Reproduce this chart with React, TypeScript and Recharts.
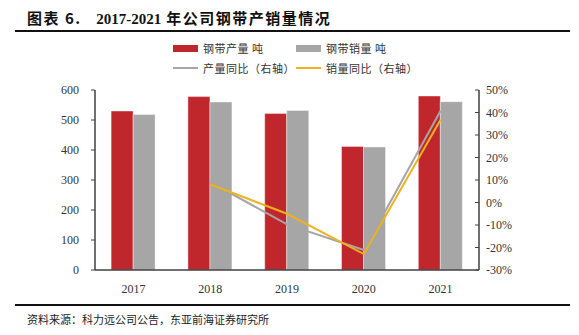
import React from "react";
import {
  Bar,
  ComposedChart,
  Line,
  XAxis,
  YAxis,
} from "recharts";

// years and values
const years = ["2017", "2018", "2019", "2020", "2021"];
const productionTons = [530, 578, 522, 412, 580];
const salesTons = [518, 560, 532, 410, 561];
const productionYoY = [null, 9.1, -9.7, -21.1, 40.8];
const salesYoY = [null, 8.1, -5.0, -22.9, 36.8];

const leftTicks = [0, 100, 200, 300, 400, 500, 600];
const rightTicks = [-30, -20, -10, 0, 10, 20, 30, 40, 50];

const RED = "#C0272D";
const GRAY = "#A6A6A6";
const YELLOW = "#EDB21E";
const AXIS = "#404040";
const SERIF = "'Liberation Serif', 'Times New Roman', serif";
const CJK = "'Noto Sans CJK SC', sans-serif";

const chartData = years.map((year, i) => ({
  year,
  production: productionTons[i],
  sales: salesTons[i],
  prodYoY: productionYoY[i],
  salesYoY: salesYoY[i],
}));

function LegendSwatch({ kind, color }: { kind: "box" | "line"; color: string }) {
  if (kind === "box") {
    return <span style={{ display: "inline-block", width: 25, height: 7, background: color, marginRight: 5 }} />;
  }
  return <span style={{ display: "inline-block", width: 25, height: 1.5, background: color, marginRight: 5, verticalAlign: "middle" }} />;
}

export default function App() {
  const legendText: React.CSSProperties = { fontFamily: CJK, fontSize: 11, color: "#333", letterSpacing: 0.5 };
  return (
    <div style={{ position: "absolute", left: 0, top: 0, width: 579, height: 335, background: "#fff" }}>
      <div style={{ position: "absolute", left: 27, top: 7, fontFamily: CJK, fontWeight: 700, fontSize: 15, color: "#111", whiteSpace: "nowrap", letterSpacing: 1.5 }}>
        图表 6.&nbsp;&nbsp;&nbsp;<span style={{ fontFamily: SERIF, letterSpacing: 0 }}>2017-2021</span> 年公司钢带产销量情况
      </div>
      <div style={{ position: "absolute", left: 15, top: 30, width: 555, height: 2, background: "#111" }} />

      <div style={{ position: "absolute", left: 173, top: 40, ...legendText, display: "flex", alignItems: "center" }}>
        <LegendSwatch kind="box" color={RED} />钢带产量 吨
      </div>
      <div style={{ position: "absolute", left: 296, top: 40, ...legendText, display: "flex", alignItems: "center" }}>
        <LegendSwatch kind="box" color={GRAY} />钢带销量 吨
      </div>
      <div style={{ position: "absolute", left: 173, top: 60, ...legendText, display: "flex", alignItems: "center" }}>
        <LegendSwatch kind="line" color={GRAY} />产量同比（右轴）
      </div>
      <div style={{ position: "absolute", left: 296, top: 60, ...legendText, display: "flex", alignItems: "center" }}>
        <LegendSwatch kind="line" color={YELLOW} />销量同比（右轴）
      </div>

      <div style={{ position: "absolute", left: 0, top: 0 }}>
        <ComposedChart
          width={579}
          height={300}
          data={chartData}
          margin={{ top: 90, right: 0, bottom: 0, left: 0 }}
          barCategoryGap="21%"
          barGap={0}
        >
          <XAxis
            dataKey="year"
            tickLine={false}
            axisLine={{ stroke: AXIS, strokeWidth: 1.5 }}
            height={30}
            tick={{ fontFamily: SERIF, fontSize: 12, fill: "#333" }}
            tickMargin={8}
          />
          <YAxis
            yAxisId="left"
            width={95}
            domain={[0, 600]}
            ticks={leftTicks}
            interval={0}
            axisLine={{ stroke: AXIS, strokeWidth: 1.5 }}
            tickLine={{ stroke: AXIS }}
            tickSize={4}
            tickMargin={12}
            tick={{ fontFamily: SERIF, fontSize: 12, fill: "#333" }}
          />
          <YAxis
            yAxisId="right"
            orientation="right"
            width={100}
            domain={[-30, 50]}
            ticks={rightTicks}
            interval={0}
            axisLine={{ stroke: AXIS, strokeWidth: 1.5 }}
            tickLine={{ stroke: AXIS }}
            tickSize={-4}
            tickMargin={11}
            tickFormatter={(v: number) => `${v}%`}
            tick={{ fontFamily: SERIF, fontSize: 12, fill: "#333", textAnchor: "start" }}
          />
          <Bar yAxisId="left" dataKey="production" fill={RED} stroke="#ffffff" strokeOpacity={0.4} strokeWidth={1} isAnimationActive={false} />
          <Bar yAxisId="left" dataKey="sales" fill={GRAY} stroke="#ffffff" strokeOpacity={0.4} strokeWidth={1} isAnimationActive={false} />
          <Line yAxisId="right" type="linear" dataKey="prodYoY" stroke={GRAY} strokeWidth={2} dot={false} isAnimationActive={false} />
          <Line yAxisId="right" type="linear" dataKey="salesYoY" stroke={YELLOW} strokeWidth={2} dot={false} isAnimationActive={false} />
        </ComposedChart>
      </div>

      <div style={{ position: "absolute", left: 15, top: 304, width: 555, height: 2, background: "#111" }} />
      <div style={{ position: "absolute", left: 27, top: 311, fontFamily: CJK, fontSize: 11, color: "#222", whiteSpace: "nowrap" }}>
        资料来源：科力远公司公告，东亚前海证券研究所
      </div>
    </div>
  );
}
